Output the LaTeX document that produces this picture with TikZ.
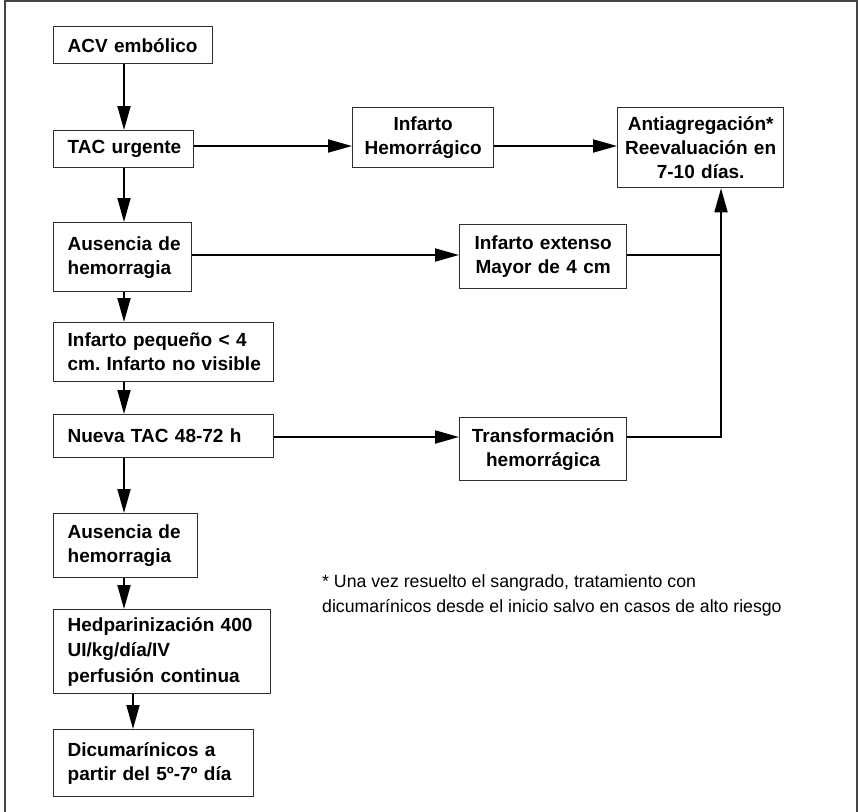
\documentclass[tikz,border=0pt]{standalone}
\usepackage{fontspec}
\setmainfont{Liberation Sans}
\usetikzlibrary{arrows.meta,calc}
\frenchspacing
\hfuzz=40pt
\hbadness=10000
\hyphenpenalty=10000
\exhyphenpenalty=10000
\definecolor{boxgray}{HTML}{2E2E2E}
\definecolor{framegray}{HTML}{444444}
\begin{document}
\begin{tikzpicture}[x=1pt,y=-1pt,
  box/.style={draw=boxgray, line width=1.3pt, fill=white,
    font=\bfseries\fontsize{19}{24}\selectfont, anchor=north west, inner ysep=0pt},
  lbox/.style={box, align=left, inner xsep=14pt},
  cbox/.style={box, align=center, inner xsep=6pt},
  conn/.style={line width=1.8pt, line join=miter},
  arr/.style={conn, -{Triangle[length=24pt,width=13pt]}},
  note/.style={font=\fontsize{17.7}{25}\selectfont, align=left, anchor=north west, inner sep=0pt}]
\useasboundingbox (0,0) rectangle (858,811);
\fill[white] (0,0) rectangle (858,811);
% outer frame
\draw[framegray, line width=2pt] (5,830) -- (5,1) -- (857,1) -- (857,830);

% left column
\node[lbox, text width=131pt, minimum height=37pt] (acv) at (53,26) {\mbox{ACV embólico}};
\node[lbox, text width=112pt, minimum height=37pt] (tac) at (53,130) {\mbox{TAC urgente}};
\node[lbox, text width=110pt, minimum height=69pt] (aus1) at (53,222) {\mbox{Ausencia de}\\\mbox{hemorragia}};
\node[lbox, text width=192pt, minimum height=59pt] (peq) at (53,322) {\mbox{Infarto pequeño < 4}\\\mbox{cm. Infarto no visible}};
\node[lbox, text width=192pt, minimum height=43pt] (nueva) at (53,414) {\mbox{Nueva TAC 48-72 h}};
\node[lbox, text width=116pt, minimum height=64pt] (aus2) at (53,513) {\mbox{Ausencia de}\\\mbox{hemorragia}};
\node[lbox, text width=189pt, minimum height=84pt, font=\bfseries\fontsize{19}{25.5}\selectfont] (hep) at (53,609) {\mbox{Hedparinización 400}\\\mbox{UI/kg/día/IV}\\\mbox{perfusión continua}};
\node[lbox, text width=172pt, minimum height=67pt] (dic) at (53,729) {\mbox{Dicumarínicos a}\\\mbox{partir del 5º-7º día}};

% right boxes
\node[cbox, text width=129pt, minimum height=60pt] (ihem) at (352,107) {\mbox{Infarto}\\\mbox{Hemorrágico}};
\node[cbox, text width=154pt, minimum height=80pt] (anti) at (617,107) {\mbox{Antiagregación*}\\\mbox{Reevaluación en}\\\mbox{7-10 días.}};
\node[cbox, text width=155pt, minimum height=64pt] (ext) at (459,224) {\mbox{Infarto extenso}\\\mbox{Mayor de 4 cm}};
\node[cbox, text width=155pt, minimum height=63pt] (trans) at (459,417) {\mbox{Transformación}\\\mbox{hemorrágica}};

% footnote
\node[note] (fn) at (322,574) {* Una vez resuelto el sangrado, tratamiento con\\dicumarínicos desde el inicio salvo en casos de alto riesgo};

% helper coordinates
\coordinate (xc) at (124,0);
\coordinate (xd) at (133,0);
\coordinate (ya) at (0,146);
\coordinate (yb) at (0,255);
\coordinate (jn) at (721,437);

% vertical chain
\draw[arr] (acv.south -| xc) -- (tac.north -| xc);
\draw[arr] (tac.south -| xc) -- (aus1.north -| xc);
\draw[arr] (aus1.south -| xc) -- (peq.north -| xc);
\draw[arr] (peq.south -| xc) -- (nueva.north -| xc);
\draw[arr] (nueva.south -| xc) -- (aus2.north -| xc);
\draw[arr] (aus2.south -| xc) -- (hep.north -| xc);
\draw[arr] (hep.south -| xd) -- (dic.north -| xd);

% horizontal branches
\draw[arr] (tac.east |- ya) -- (ihem.west |- ya);
\draw[arr] (ihem.east |- ya) -- (anti.west |- ya);
\draw[arr] (aus1.east |- yb) -- (ext.west |- yb);
\draw[conn] (ext.east |- yb) -- (jn |- yb);
\draw[arr] (nueva.east |- jn) -- (trans.west |- jn);
\draw[arr] (trans.east |- jn) -- (jn) -- (anti.south -| jn);
\end{tikzpicture}
\end{document}
